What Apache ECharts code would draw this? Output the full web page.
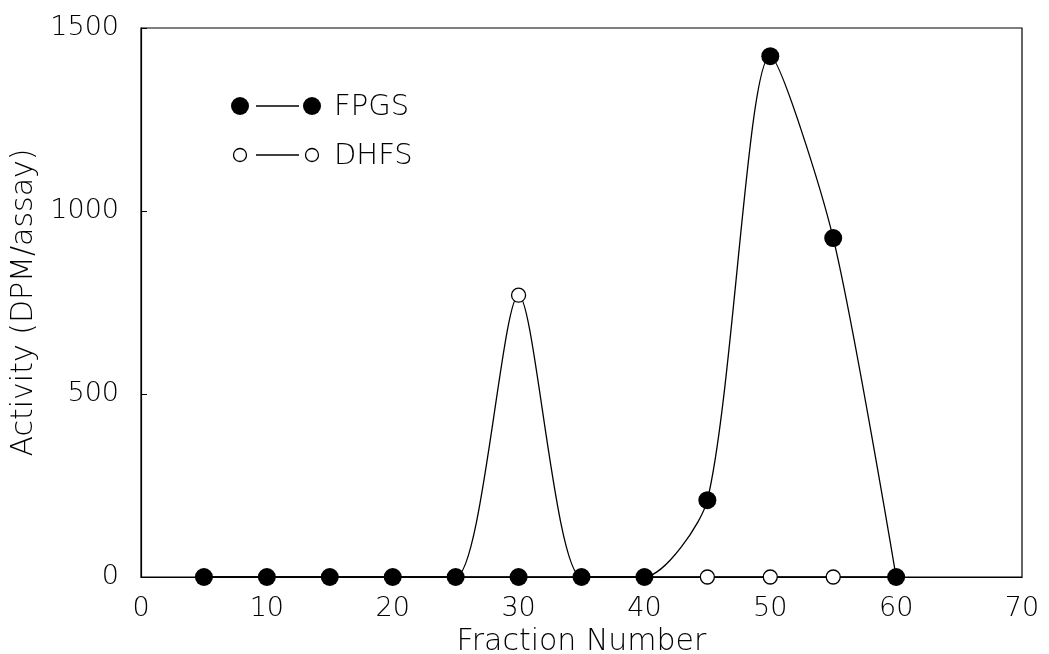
<!DOCTYPE html>
<html>
<head>
<meta charset="utf-8">
<script src="https://cdn.jsdelivr.net/npm/echarts@6/dist/echarts.min.js"></script>
<style>
  html, body { margin: 0; padding: 0; background: #fff; }
  #main { width: 1049px; height: 654px; }
</style>
</head>
<body>
<div id="main"></div>
<script>
// fraction numbers and measured activity (DPM/assay)
const fractions = [5, 10, 15, 20, 25, 30, 35, 40, 45, 50, 55, 60]
const fpgs = [0, 0, 0, 0, 0, 0, 0, 0, 210, 1423, 926, 0]
const dhfs = [0, 0, 0, 0, 0, 770, 0, 0, 0, 0, 0, 0]
const xTicks = [0, 10, 20, 30, 40, 50, 60, 70]
const yTicks = [0, 500, 1000, 1500]

const font = 'DejaVu Sans'

function pairs(xs, ys) {
  return xs.map((x, i) => [x, ys[i]])
}

const myChart = echarts.init(document.getElementById('main'))

// legend drawn as graphic: dot — dot label
function legendRow(y, filled, label) {
  const r = filled ? 9 : 6.5
  const style = filled
    ? { fill: '#000' }
    : { fill: '#fff', stroke: '#000', lineWidth: 1.3 }
  return [
    { type: 'circle', shape: { cx: 240, cy: y, r: r }, style: style },
    { type: 'line', shape: { x1: 256, y1: y, x2: 299, y2: y }, style: { stroke: '#000', lineWidth: 1.3 } },
    { type: 'circle', shape: { cx: 312, cy: y, r: r }, style: style },
    { type: 'text', x: 334, y: y + 1, style: { text: label, font: '200 29px "' + font + '"', fill: '#000', verticalAlign: 'middle' } },
  ]
}

myChart.setOption({
  animation: false,
  backgroundColor: '#fff',
  textStyle: { fontFamily: font, fontWeight: 200 },
  grid: {
    left: 141,
    right: 27,
    top: 28,
    bottom: 77,
    outerBoundsMode: 'none',
    containLabel: false,
    show: true,
    borderColor: '#000',
    borderWidth: 1.2,
  },
  xAxis: {
    type: 'value',
    min: xTicks[0],
    max: xTicks[xTicks.length - 1],
    interval: 10,
    name: 'Fraction Number',
    nameLocation: 'middle',
    nameGap: 38,
    nameTextStyle: { fontFamily: font, fontWeight: 200, fontSize: 30, color: '#000' },
    axisLine: { lineStyle: { color: '#000', width: 1.2 } },
    axisTick: { show: false },
    axisLabel: { fontFamily: font, fontWeight: 200, fontSize: 27, color: '#000', margin: 18 },
    splitLine: { show: false },
  },
  yAxis: {
    type: 'value',
    min: yTicks[0],
    max: yTicks[yTicks.length - 1],
    interval: 500,
    name: 'Activity (DPM/assay)',
    nameLocation: 'middle',
    nameGap: 94,
    nameTextStyle: { fontFamily: font, fontWeight: 200, fontSize: 30, color: '#000' },
    axisLine: { lineStyle: { color: '#000', width: 1.2 } },
    axisTick: { show: true, inside: true, length: 6, lineStyle: { color: '#000' } },
    axisLabel: {
      fontFamily: font, fontWeight: 200, fontSize: 27, color: '#000', margin: 22,
      formatter: (v) => String(v),
    },
    splitLine: { show: false },
  },
  series: [
    {
      name: 'DHFS',
      type: 'line',
      data: pairs(fractions, dhfs),
      smooth: 0.25,
      symbol: 'circle',
      symbolSize: 14,
      showAllSymbol: true,
      lineStyle: { color: '#000', width: 1.3 },
      itemStyle: { color: '#fff', borderColor: '#000', borderWidth: 1.3 },
      z: 2,
    },
    {
      name: 'FPGS',
      type: 'line',
      data: pairs(fractions, fpgs),
      smooth: 0.25,
      symbol: 'circle',
      symbolSize: 18,
      showAllSymbol: true,
      lineStyle: { color: '#000', width: 1.3 },
      itemStyle: { color: '#000' },
      z: 3,
    },
  ],
  graphic: [].concat(legendRow(106, true, 'FPGS'), legendRow(155, false, 'DHFS')),
})
</script>
</body>
</html>
